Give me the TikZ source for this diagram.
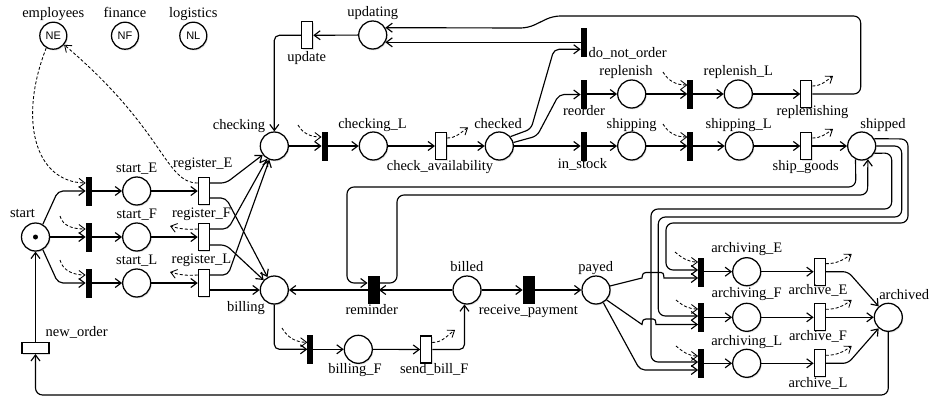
\documentclass[tikz,border=0pt]{standalone}
\usepackage{fontspec}
\setmainfont{Liberation Serif}
\newfontfamily\nsansfam{Liberation Sans}
\usetikzlibrary{arrows.meta,shadows,calc}
\newcommand\mylblfont{\fontsize{14.5}{17}\selectfont}
\begin{document}
\begin{tikzpicture}[x=1pt,y=-1pt,
  shd/.style={drop shadow={opacity=0.25,shadow xshift=1pt,shadow yshift=-1.3pt}},
  place/.style={circle,draw,line width=1.25pt,minimum size=28pt,inner sep=0pt,fill=white,shd},
  res/.style={place,minimum size=27pt,font=\nsansfam\fontsize{11}{13}\selectfont},
  btr/.style={rectangle,fill=black,draw=black,line width=0.3pt,minimum width=5pt,minimum height=28pt,inner sep=0pt},
  bbtr/.style={btr,minimum width=11pt,minimum height=27pt},
  wtr/.style={rectangle,draw,fill=white,line width=1.1pt,minimum width=11pt,minimum height=27pt,inner sep=0pt,shd},
  htr/.style={wtr,minimum width=27pt,minimum height=11pt},
  lbl/.style={font=\mylblfont,inner sep=0pt,anchor=mid},
  flow/.style={line width=1.15pt,-{Straight Barb[length=6pt,width=9pt]},rounded corners=5pt},
  bigflow/.style={flow,rounded corners=7pt},
  dflow/.style={line width=0.85pt,dash pattern=on 3pt off 2pt,-{Straight Barb[length=6pt,width=9pt]}},
]
\useasboundingbox (0,0) rectangle (935,397);
\coordinate (bot) at (0,395);

% ---------- places ----------
\node[res] (NE) at (53.3,35.7) {NE};
\node[res] (NF) at (125,35.7) {NF};
\node[res] (NL) at (193.3,35.7) {NL};
\node[place] (start) at (35.5,237) {};
\node[circle,fill=black,inner sep=0pt,minimum size=5pt] (tok) at (start) {};
\node[place] (sE) at (136.7,191) {};
\node[place] (sF) at (136.7,237) {};
\node[place] (sL) at (136.7,283) {};
\node[place] (checking) at (274.3,146) {};
\node[place] (chkL) at (373.3,146) {};
\node[place] (checked) at (499.3,146) {};
\node[place] (updating) at (372.7,35) {};
\node[place] (replenish) at (631.7,94) {};
\node[place] (replL) at (738.3,94) {};
\node[place] (shipping) at (631.7,146) {};
\node[place] (shipL) at (739.3,146) {};
\node[place] (shipped) at (861.7,146) {};
\node[place] (billing) at (274.3,290) {};
\node[place] (billed) at (467,290) {};
\node[place] (payed) at (596,290) {};
\node[place] (billF) at (358.3,349.3) {};
\node[place] (aE) at (746.7,271.7) {};
\node[place] (aF) at (746.7,317.3) {};
\node[place] (aL) at (746.7,363.3) {};
\node[place] (archived) at (888.3,317.3) {};

% ---------- transitions ----------
\node[btr] (tE) at (88.3,191) {};
\node[btr] (tF) at (88.3,237) {};
\node[btr] (tL) at (88.3,283) {};
\node[wtr] (rE) at (203.8,191) {};
\node[wtr] (rF) at (203.8,237) {};
\node[wtr] (rL) at (203.8,283) {};
\node[btr] (tchk) at (324.2,146) {};
\node[wtr] (chav) at (441,146) {};
\node[wtr] (update) at (307.2,35.3) {};
\node[btr] (dno) at (583.3,41.7) {};
\node[btr] (reorder) at (583.3,94) {};
\node[btr] (instock) at (583.3,146) {};
\node[btr] (trepl) at (690,94) {};
\node[wtr] (replg) at (806.3,94) {};
\node[btr] (tship) at (690,146) {};
\node[wtr] (shipg) at (806.3,146) {};
\node[bbtr] (reminder) at (373.2,290) {};
\node[bbtr] (recpay) at (528.3,290) {};
\node[btr] (tbillF) at (310,349.3) {};
\node[wtr] (sendbill) at (426.2,349.5) {};
\node[htr] (neworder) at (35.5,348) {};
\node[btr] (taE) at (700.8,271.7) {};
\node[btr] (taF) at (700.8,317.3) {};
\node[btr] (taL) at (700.8,363.3) {};
\node[wtr] (archE) at (819.7,271.7) {};
\node[wtr] (archF) at (819.7,317.3) {};
\node[wtr] (archL) at (819.7,363.3) {};

% ---------- labels ----------
\node[lbl] (l-emp) at (53.3,15) {employees};
\node[lbl] (l-fin) at (125,15) {finance};
\node[lbl] (l-log) at (193.3,15) {logistics};
\node[lbl] (l-start) at (22.5,215) {start};
\node[lbl] (l-sE) at (136.7,170.5) {start\_E};
\node[lbl] (l-sF) at (136.7,216.5) {start\_F};
\node[lbl] (l-sL) at (136.7,262.5) {start\_L};
\node[lbl] (l-rE) at (202.8,165) {register\_E};
\node[lbl] (l-rF) at (201.5,215) {register\_F};
\node[lbl] (l-rL) at (201.5,261.5) {register\_L};
\node[lbl] (l-checking) at (239,127) {checking};
\node[lbl] (l-chkL) at (372.5,126) {checking\_L};
\node[lbl] (l-chav) at (440,168) {check\_availability};
\node[lbl] (l-checked) at (498,126) {checked};
\node[lbl] (l-updating) at (372.7,14.5) {updating};
\node[lbl] (l-update) at (306.7,59) {update};
\node[lbl,anchor=mid west] (l-dno) at (588.3,55) {do\_not\_order};
\node[lbl] (l-replenish) at (626,73) {replenish};
\node[lbl] (l-reorder) at (584,113) {reorder};
\node[lbl] (l-shipping) at (631.7,126) {shipping};
\node[lbl] (l-instock) at (582.5,166) {in\_stock};
\node[lbl] (l-replL) at (738.3,73.3) {replenish\_L};
\node[lbl] (l-replg) at (812.5,113.3) {replenishing};
\node[lbl] (l-shipL) at (738.7,126) {shipping\_L};
\node[lbl] (l-shipped) at (883,126) {shipped};
\node[lbl] (l-shipg) at (805.7,168.3) {ship\_goods};
\node[lbl] (l-billing) at (246,309) {billing};
\node[lbl] (l-reminder) at (371.7,312.3) {reminder};
\node[lbl] (l-billed) at (466.8,269.3) {billed};
\node[lbl] (l-recpay) at (528.3,311.7) {receive\_payment};
\node[lbl] (l-payed) at (595.8,269.3) {payed};
\node[lbl] (l-billF) at (355,370.7) {billing\_F};
\node[lbl] (l-sendbill) at (434.3,370.7) {send\_bill\_F};
\node[lbl] (l-neworder) at (76.7,334) {new\_order};
\node[lbl] (l-aE) at (746.7,250) {archiving\_E};
\node[lbl] (l-aF) at (746.7,295) {archiving\_F};
\node[lbl] (l-aL) at (746.7,343.3) {archiving\_L};
\node[lbl] (l-archE) at (818,291.7) {archive\_E};
\node[lbl] (l-archF) at (818,338.3) {archive\_F};
\node[lbl] (l-archL) at (818,385) {archive\_L};
\node[lbl] (l-archived) at (904.2,296.7) {archived};

% ---------- free ends of dashed arcs ----------
\coordinate (dtF) at (60,216);
\coordinate (dtL) at (60,260);
\coordinate (drF) at (170,226);
\coordinate (drL) at (170,272);
\coordinate (dtchk) at (298,125);
\coordinate (dchav) at (468,127.5);
\coordinate (dtrepl) at (663,72);
\coordinate (dtship) at (663,124);
\coordinate (dreplg) at (833,76);
\coordinate (dshipg) at (833,129);
\coordinate (dtbill) at (282,328);
\coordinate (dsend) at (455,330);
\coordinate (dtaE) at (675,252);
\coordinate (dtaF) at (676,300);
\coordinate (dtaL) at (676,346);
\coordinate (darchE) at (851.7,254);
\coordinate (darchF) at (851.7,300);
\coordinate (darchL) at (851.7,346);

% ---------- start part ----------
\draw[flow] (start.60) -- (58,191) -- (tE.west);
\draw[flow] (start.east) -- (tF.west);
\draw[flow] (start.-60) -- (58,283) -- (tL.west);
\draw[flow] (tE) -- (sE);
\draw[flow] (tF) -- (sF);
\draw[flow] (tL) -- (sL);
\draw[flow] (sE) -- (rE);
\draw[flow] (sF) -- (rF);
\draw[flow] (sL) -- (rL);
\draw[flow] (neworder.north) -- (start.south);
\draw[bigflow] (archived.south) -- (archived.south |- bot) -- (neworder.south |- bot) -- (neworder.south);

\draw[dflow] (NE.240) .. controls (18,120) and (35,182) .. ([yshift=8pt]tE.west);
\draw[dflow] ([yshift=8pt]rE.west) .. controls (165,183) and (165,130) .. (NE.-40);
\draw[dflow] (dtF) to[out=-75,in=180] ([yshift=8pt]tF.west);
\draw[dflow] (dtL) to[out=-75,in=180] ([yshift=8pt]tL.west);
\draw[dflow] ([yshift=8pt]rF.west) to[bend left=10] (drF);
\draw[dflow] ([yshift=8pt]rL.west) to[bend left=10] (drL);

% register -> checking / billing
\draw[flow] ([yshift=8pt]rE.east) -- (226,183) -- (checking);
\draw[flow] ([yshift=8pt]rF.east) -- (228,229) -- (checking);
\draw[flow] ([yshift=8pt]rL.east) -- (228,275) -- (checking);
\draw[flow] ([yshift=-7pt]rE.east) -- (226,198) -- (billing);
\draw[flow] ([yshift=-8pt]rF.east) -- (226,245) -- (billing);
\draw[flow] ([yshift=-7pt]rL.east) -- (billing.west);

% ---------- checking chain ----------
\draw[flow] (checking) -- (tchk);
\draw[flow] (tchk) -- (chkL);
\draw[flow] (chkL) -- (chav);
\draw[flow] (chav) -- (checked);
\draw[flow] (checked) -- (instock);
\draw[flow] (instock) -- (shipping);
\draw[flow] (shipping) -- (tship);
\draw[flow] (tship) -- (shipL);
\draw[flow] (shipL) -- (shipg);
\draw[flow] (shipg) -- (shipped);
\draw[dflow] (dtchk) to[out=-60,in=180] ([yshift=9pt]tchk.west);
\draw[dflow] ([yshift=8pt]chav.east) to[out=0,in=215] (dchav);
\draw[dflow] (dtship) to[out=-60,in=180] ([yshift=9pt]tship.west);
\draw[dflow] ([yshift=8pt]shipg.east) to[out=0,in=215] (dshipg);

\draw[flow] (checked.40) -- (531,129) -- (554,49.3) -- ([yshift=-7.6pt]dno.west);
\draw[flow] (checked.14) -- (537,136) -- (559,94.5) -- ([yshift=-0.5pt]reorder.west);
\draw[flow] (dno.west |- updating.-30) -- (updating.-30);
\draw[flow] (reorder) -- (replenish);
\draw[flow] (replenish) -- (trepl);
\draw[flow] (trepl) -- (replL);
\draw[flow] (replL) -- (replg);
\draw[dflow] (dtrepl) to[out=-60,in=180] ([yshift=9pt]trepl.west);
\draw[dflow] ([yshift=8pt]replg.east) to[out=0,in=215] (dreplg);
\draw[bigflow] (replg.east) -- (860.7,94) -- (860.7,16) -- (553,16) -- (528,28) -- (updating.30);
\draw[flow] (updating) -- (update);
\draw[flow] (update.west) -| (checking.north);

% ---------- billing ----------
\draw[flow] (billed) -- (reminder);
\draw[flow] (reminder) -- (billing);
\draw[flow] (billed) -- (recpay);
\draw[flow] (recpay) -- (payed);
\draw[flow] (billing.south) |- (tbillF.west);
\draw[flow] (tbillF) -- (billF);
\draw[flow] (billF) -- (sendbill);
\draw[flow] (sendbill.east) -| (billed.-100);
\draw[dflow] (dtbill) to[out=-60,in=180] ([yshift=7pt]tbillF.west);
\draw[dflow] ([yshift=7pt]sendbill.east) to[out=0,in=215] (dsend);

% shipped <-> reminder
\draw[bigflow] (shipped.-115) -- (855.8,187) -- (347,187) -- (347,283) -- ([yshift=7pt]reminder.west);
\draw[bigflow] ([yshift=7pt]reminder.east) -- (397,283) -- (397,195) -- (867.6,195) -- (shipped.-65);

% shipped -> archiving transitions
\draw[bigflow] (shipped.30) -- (908,139) -- (908,223) -- (666,223) -- (666,270) -- ([yshift=1.7pt]taE.west);
\draw[bigflow] (shipped.east) -- (901.7,146) -- (901.7,217) -- (658.3,217) -- (658.3,316) -- ([yshift=1.3pt]taF.west);
\draw[bigflow] (shipped.-30) -- (891.7,153) -- (891.7,209) -- (651,209) -- (651,362) -- ([yshift=1.3pt]taL.west);

% payed -> archiving transitions (with hops)
\draw[flow,sharp corners] (payed.16) -- (642,278) .. controls (642.5,273) and (644,272.5) .. (646,272.5) -- (661,272.5) .. controls (663,272.5) and (663.5,273) .. (664,278) -- ([yshift=-6.3pt]taE.west);
\draw[flow,sharp corners] (payed.-43) -- (642,324.5) .. controls (642.5,319.5) and (644,319) .. (646,319) -- (653,319) .. controls (655,319) and (655.5,319.5) .. (656,324.5) -- ([yshift=-7.2pt]taF.west);
\draw[flow] (payed.-60) -- (640,370) -- ([yshift=-6.7pt]taL.west);

\draw[dflow] (dtaE) to[out=-40,in=180] ([yshift=9.7pt]taE.west);
\draw[dflow] (dtaF) to[out=-40,in=180] ([yshift=8.3pt]taF.west);
\draw[dflow] (dtaL) to[out=-40,in=180] ([yshift=7.3pt]taL.west);

% archiving
\draw[flow] (taE) -- (aE);
\draw[flow] (taF) -- (aF);
\draw[flow] (taL) -- (aL);
\draw[flow] (aE) -- (archE);
\draw[flow] (aF) -- (archF);
\draw[flow] (aL) -- (archL);
\draw[flow] (archE.east) -- (848,271.7) -- (archived);
\draw[flow] (archF) -- (archived);
\draw[flow] (archL.east) -- (848,363.3) -- (archived);
\draw[dflow] ([yshift=8pt]archE.east) to[out=0,in=215] (darchE);
\draw[dflow] ([yshift=8pt]archF.east) to[out=0,in=215] (darchF);
\draw[dflow] ([yshift=8pt]archL.east) to[out=0,in=215] (darchL);
\end{tikzpicture}
\end{document}
